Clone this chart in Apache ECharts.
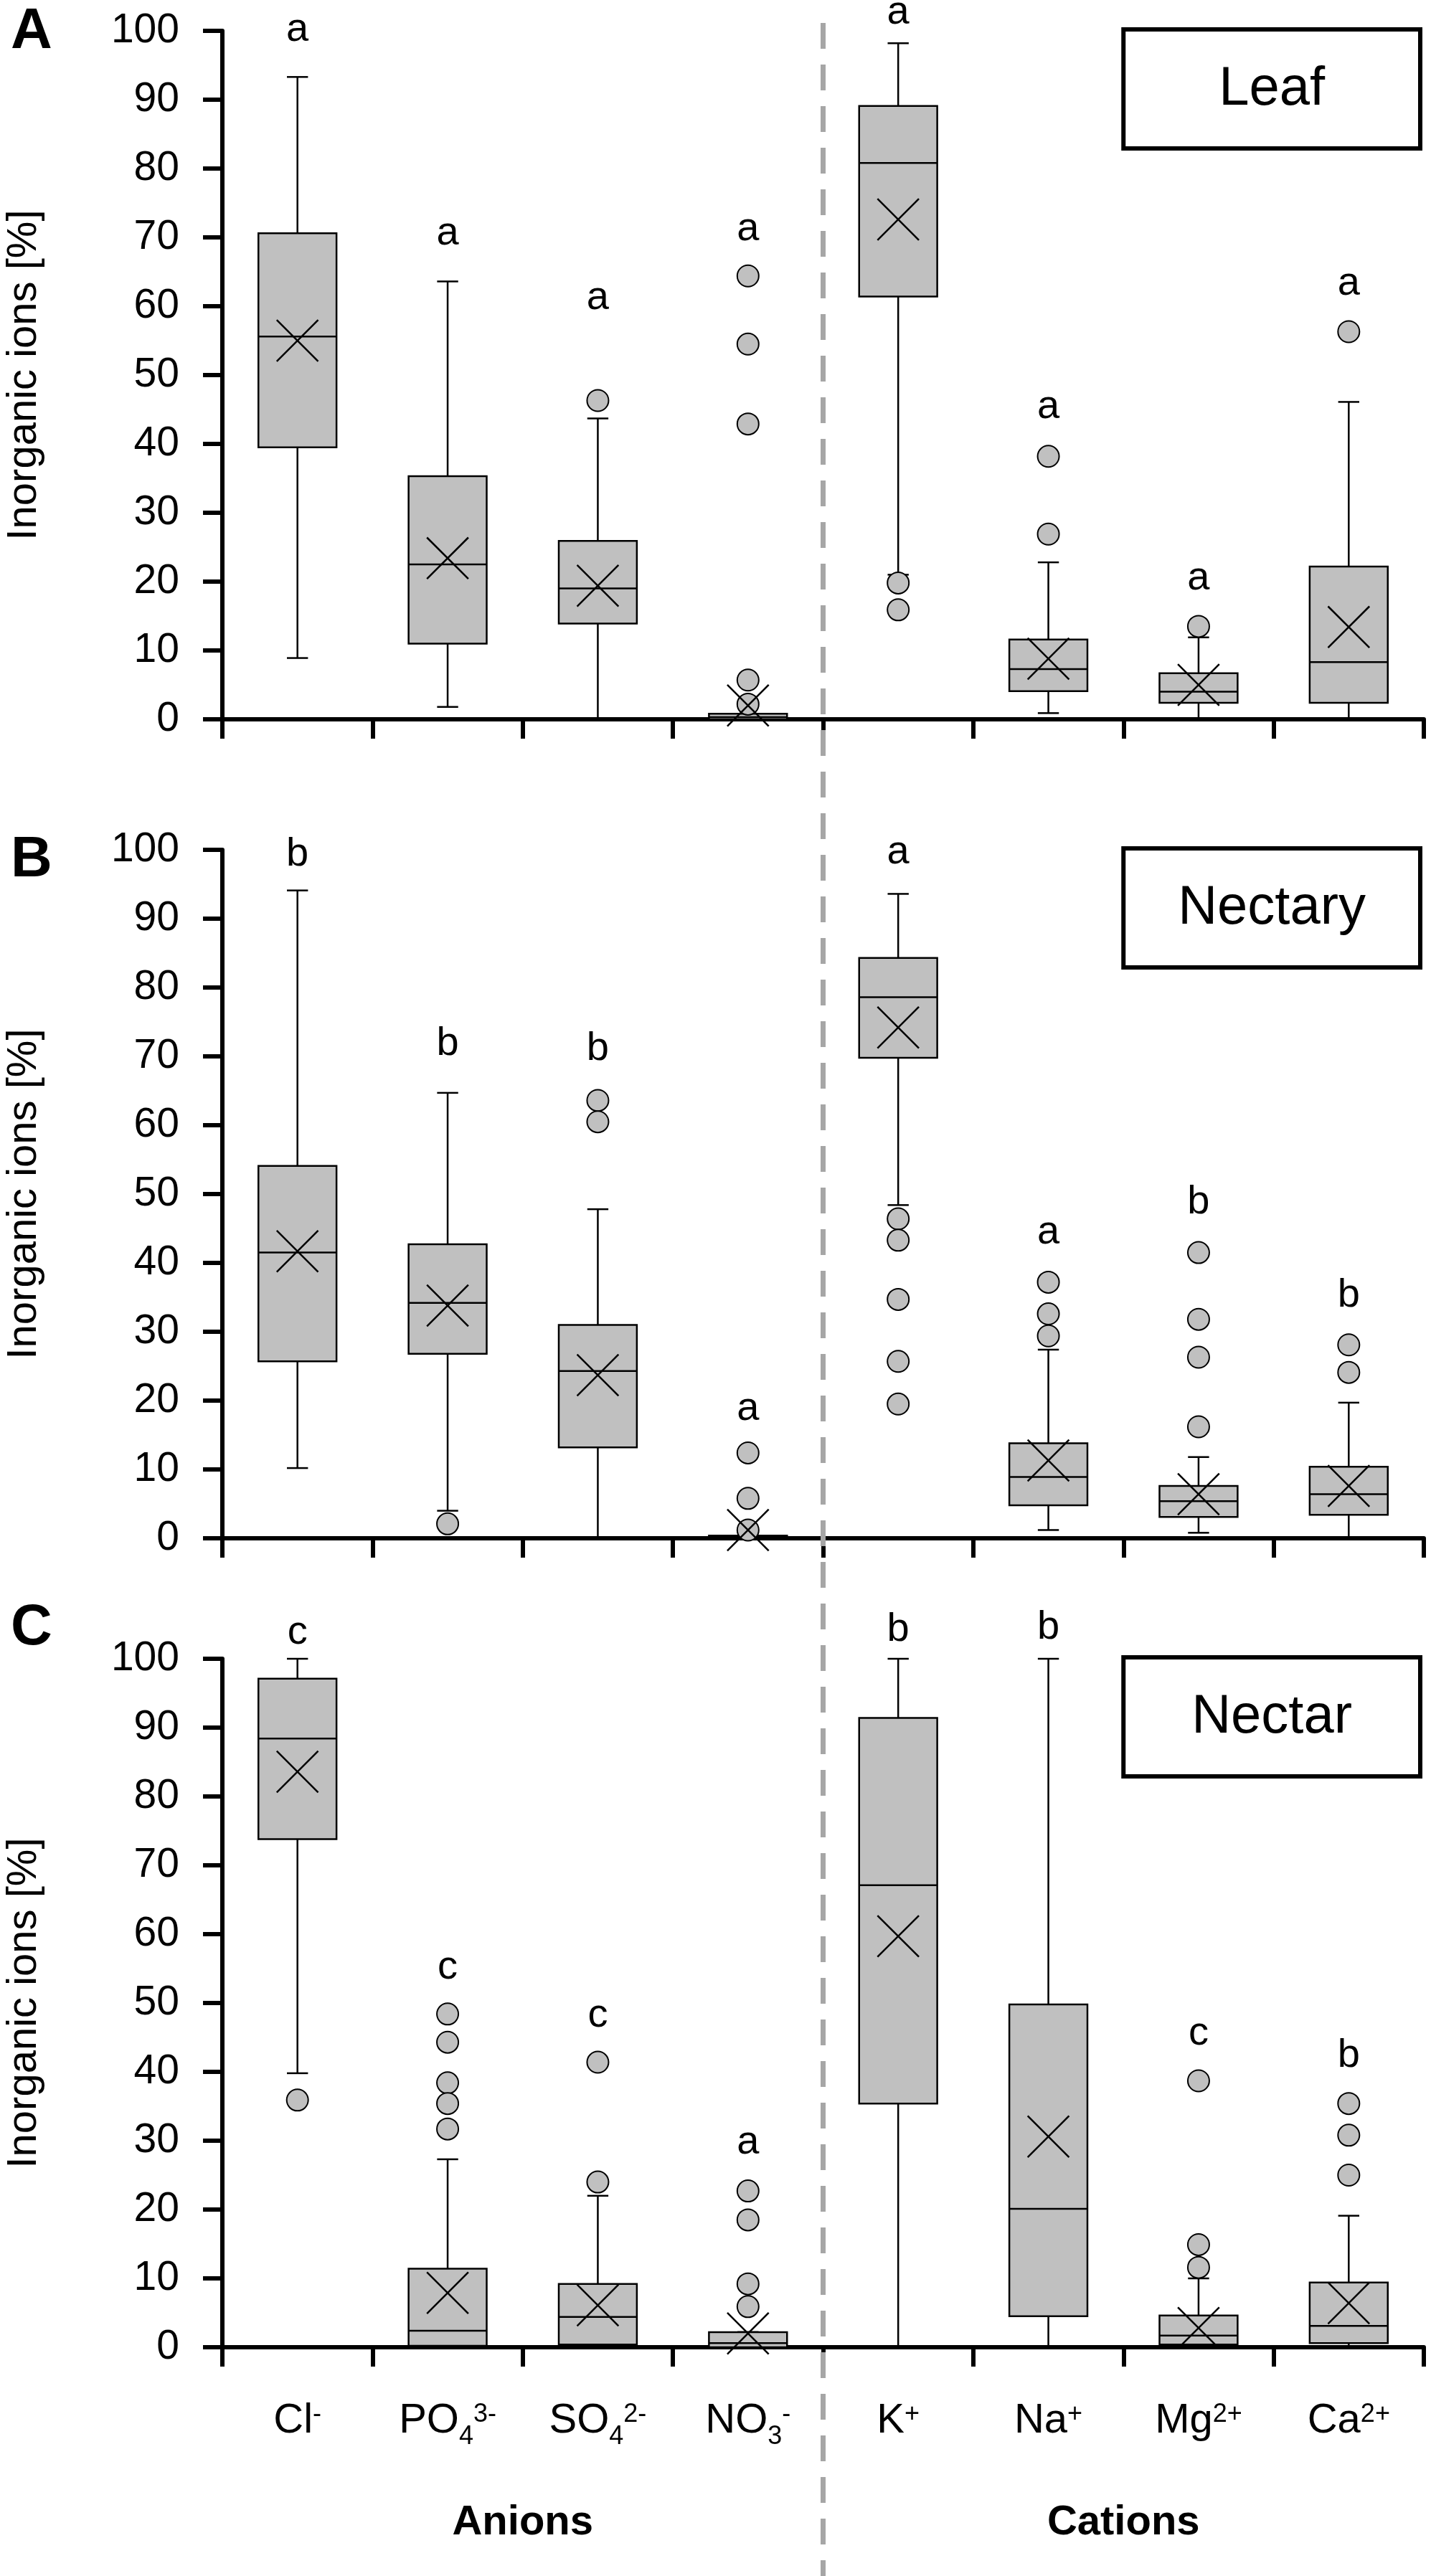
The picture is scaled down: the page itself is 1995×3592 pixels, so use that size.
<!DOCTYPE html>
<html>
<head>
<meta charset="utf-8">
<title>Inorganic ions</title>
<script src="https://cdn.jsdelivr.net/npm/echarts/dist/echarts.min.js"></script>
<style>
  html, body { margin: 0; padding: 0; background: #fff; }
  #chart { width: 1995px; height: 3592px; }
</style>
</head>
<body>
<div id="chart"></div>
<script>
// categories and tick labels
const ions = ['Cl-', 'PO4 3-', 'SO4 2-', 'NO3 -', 'K+', 'Na+', 'Mg2+', 'Ca2+'];
const ionLabels = [
  '{m|Cl}{sup|-}', '{m|PO}{sub|4}{sup|3-}', '{m|SO}{sub|4}{sup|2-}', '{m|NO}{sub|3}{sup|-}',
  '{m|K}{sup|+}', '{m|Na}{sup|+}', '{m|Mg}{sup|2+}', '{m|Ca}{sup|2+}'
];
const groups = ['Anions', 'Cations'];
const panelNames = ['Leaf', 'Nectary', 'Nectar'];
const panelTags = ['A', 'B', 'C'];

// box stats per ion: [low whisker, Q1, median, Q3, high whisker]
const leafStats = [
  [8.9, 39.5, 55.6, 70.6, 93.3],
  [1.8, 11.0, 22.5, 35.3, 63.6],
  [0, 13.9, 19.0, 25.9, 43.7],
  [0, 0, 0.3, 0.8, 0.8],
  [21.0, 61.4, 80.8, 89.1, 98.2],
  [0.9, 4.1, 7.3, 11.6, 22.8],
  [0, 2.4, 4.0, 6.7, 11.9],
  [0, 2.4, 8.3, 22.2, 46.1]
];
const leafMean = [55.0, 23.4, 19.4, 2.0, 72.6, 8.8, 5.0, 13.4];
const leafOutliers = [
  [2, 46.3], [3, 64.4], [3, 54.5], [3, 42.9], [3, 5.7], [3, 2.2],
  [4, 19.8], [4, 15.9], [5, 38.2], [5, 26.9], [6, 13.5], [7, 56.3]
];
const leafLetters = ['a', 'a', 'a', 'a', 'a', 'a', 'a', 'a'];
const leafLetterAt = [100.2, 70.6, 61.2, 71.2, 102.6, 45.4, 20.5, 63.3];

const nectaryStats = [
  [10.2, 25.7, 41.5, 54.1, 94.1],
  [4.0, 26.8, 34.2, 42.7, 64.7],
  [0, 13.2, 24.3, 31.0, 47.8],
  [0, 0, 0.2, 0.4, 0.4],
  [48.4, 69.8, 78.6, 84.3, 93.6],
  [1.2, 4.8, 8.9, 13.8, 27.4],
  [0.8, 3.1, 5.4, 7.6, 11.8],
  [0, 3.4, 6.4, 10.4, 19.7]
];
const nectaryMean = [41.7, 33.8, 23.7, 1.2, 74.2, 11.3, 6.4, 7.6];
const nectaryOutliers = [
  [1, 2.1], [2, 63.6], [2, 60.5], [3, 12.4], [3, 5.8], [3, 1.2],
  [4, 46.4], [4, 43.3], [4, 34.7], [4, 25.7], [4, 19.5],
  [5, 37.2], [5, 32.6], [5, 29.4],
  [6, 41.5], [6, 31.8], [6, 26.3], [6, 16.2],
  [7, 28.1], [7, 24.1]
];
const nectaryLetters = ['b', 'b', 'b', 'a', 'a', 'a', 'b', 'b'];
const nectaryLetterAt = [99.3, 71.8, 71.1, 18.8, 99.6, 44.4, 48.8, 35.3];

const nectarStats = [
  [39.8, 73.8, 88.4, 97.1, 100],
  [0, 0.2, 2.4, 11.4, 27.3],
  [0, 0.4, 4.4, 9.2, 22.0],
  [0, 0, 0.6, 2.2, 2.2],
  [0, 35.4, 67.1, 91.4, 100],
  [0, 4.5, 20.1, 49.8, 100],
  [0, 0.4, 1.7, 4.6, 10.0],
  [0, 0.6, 3.1, 9.4, 19.1]
];
const nectarMean = [83.6, 7.9, 6.1, 2.0, 59.7, 30.6, 2.8, 6.4];
const nectarOutliers = [
  [0, 35.9], [1, 48.4], [1, 44.3], [1, 38.4], [1, 35.4], [1, 31.7],
  [2, 41.4], [2, 24.0], [3, 22.7], [3, 18.5], [3, 9.2], [3, 5.9],
  [6, 38.7], [6, 14.9], [6, 11.6], [7, 35.4], [7, 30.8], [7, 25.0]
];
const nectarLetters = ['c', 'c', 'c', 'a', 'b', 'b', 'c', 'b'];
const nectarLetterAt = [103.8, 55.1, 48.2, 29.7, 104.2, 104.5, 45.6, 42.3];

const FONT = 'Liberation Sans, Arial, Helvetica, sans-serif';
const GRAY = '#c0c0c0';
const gridLeft = 310, gridRight = 10, plotH = 960;
const gridTops = [43, 1185, 2313];
const tagY = [45, 1200, 2271];

const panels = [
  { stats: leafStats, mean: leafMean, out: leafOutliers, letters: leafLetters, at: leafLetterAt },
  { stats: nectaryStats, mean: nectaryMean, out: nectaryOutliers, letters: nectaryLetters, at: nectaryLetterAt },
  { stats: nectarStats, mean: nectarMean, out: nectarOutliers, letters: nectarLetters, at: nectarLetterAt }
];

function ln(x1, y1, x2, y2, w) {
  return { type: 'line', shape: { x1, y1, x2, y2 }, style: { stroke: '#000', lineWidth: w || 2.5 } };
}

function renderBox(params, api) {
  const i = api.value(0);
  const lo = api.coord([i, api.value(1)]);
  const q1 = api.coord([i, api.value(2)]);
  const md = api.coord([i, api.value(3)]);
  const q3 = api.coord([i, api.value(4)]);
  const hi = api.coord([i, api.value(5)]);
  const cx = lo[0];
  const bw = api.size([1, 0])[0] * 0.52;
  const cap = bw * 0.27;
  return {
    type: 'group',
    children: [
      ln(cx, lo[1], cx, q1[1]),
      ln(cx, q3[1], cx, hi[1]),
      ln(cx - cap / 2, lo[1], cx + cap / 2, lo[1]),
      ln(cx - cap / 2, hi[1], cx + cap / 2, hi[1]),
      { type: 'rect', shape: { x: cx - bw / 2, y: q3[1], width: bw, height: q1[1] - q3[1] },
        style: { fill: GRAY, stroke: '#000', lineWidth: 2.5 } },
      ln(cx - bw / 2, md[1], cx + bw / 2, md[1])
    ]
  };
}

function renderMean(params, api) {
  const p = api.coord([api.value(0), api.value(1)]);
  const h = api.size([1, 0])[0] * 0.52 * 0.265;
  return {
    type: 'group',
    children: [
      ln(p[0] - h, p[1] - h, p[0] + h, p[1] + h),
      ln(p[0] - h, p[1] + h, p[0] + h, p[1] - h)
    ]
  };
}

function makeLetterRender(letters) {
  return function (params, api) {
    const p = api.coord([api.value(0), api.value(1)]);
    return {
      type: 'text', x: p[0], y: p[1],
      style: { text: letters[params.dataIndex], fontSize: 56, fontFamily: FONT, fill: '#000',
               align: 'center', verticalAlign: 'middle' }
    };
  };
}

// the grey dashed line between anions and cations, from top panel down to page bottom
function renderDivider(params, api) {
  const x = (api.coord([3, 0])[0] + api.coord([4, 0])[0]) / 2;
  const yTop = api.coord([0, 100])[1] - 11;
  return {
    type: 'line', shape: { x1: x, y1: yTop, x2: x, y2: api.getHeight() },
    style: { stroke: '#a6a6a6', lineWidth: 7, lineDash: [36, 22] }
  };
}

const grids = [], xAxes = [], yAxes = [], series = [], graphics = [];

panels.forEach((pd, p) => {
  grids.push({ left: gridLeft, right: gridRight, top: gridTops[p], height: plotH, outerBoundsMode: 'none' });
  xAxes.push({
    type: 'category', gridIndex: p, data: ions, boundaryGap: true,
    axisLine: { show: true, lineStyle: { color: '#000', width: 6 } },
    axisTick: { show: true, interval: 0, length: 27, lineStyle: { color: '#000', width: 6 } },
    axisLabel: p < 2 ? { show: false } : {
      show: true, interval: 0, margin: 63, color: '#000',
      formatter: (v, i) => ionLabels[i],
      rich: {
        m: { fontSize: 58, lineHeight: 80, fontFamily: FONT, color: '#000' },
        sup: { fontSize: 36, lineHeight: 36, fontFamily: FONT, color: '#000', verticalAlign: 'top', padding: [13, 0, 0, 0] },
        sub: { fontSize: 36, lineHeight: 36, fontFamily: FONT, color: '#000', verticalAlign: 'bottom', padding: [0, 0, 0, 0] }
      }
    },
    splitLine: { show: false }
  });
  yAxes.push({
    type: 'value', gridIndex: p, min: 0, max: 100, interval: 10,
    name: 'Inorganic ions [%]', nameLocation: 'middle', nameGap: 247,
    nameTextStyle: { fontSize: 58, fontFamily: FONT, color: '#000' },
    axisLine: { show: true, lineStyle: { color: '#000', width: 6 } },
    axisTick: { show: true, length: 27, lineStyle: { color: '#000', width: 6 } },
    axisLabel: { fontSize: 57, fontFamily: FONT, color: '#000', margin: 60 },
    splitLine: { show: false }
  });

  series.push({
    type: 'custom', xAxisIndex: p, yAxisIndex: p, z: 2, clip: false, silent: true,
    renderItem: renderBox,
    data: pd.stats.map((s, i) => [i].concat(s))
  });
  series.push({
    type: 'scatter', xAxisIndex: p, yAxisIndex: p, z: 3, silent: true,
    symbol: 'circle', symbolSize: 30,
    itemStyle: { color: GRAY, borderColor: '#000', borderWidth: 2, opacity: 1 },
    data: pd.out
  });
  series.push({
    type: 'custom', xAxisIndex: p, yAxisIndex: p, z: 4, clip: false, silent: true,
    renderItem: renderMean,
    data: pd.mean.map((m, i) => [i, m])
  });
  series.push({
    type: 'custom', xAxisIndex: p, yAxisIndex: p, z: 4, clip: false, silent: true,
    renderItem: makeLetterRender(pd.letters),
    data: pd.at.map((v, i) => [i, v])
  });

  // panel name box in the upper right and the panel tag at the upper left
  const catW = (1995 - gridLeft - gridRight) / 8;
  const bx = gridLeft + 6 * catW;
  const by = gridTops[p] - 2;
  graphics.push({
    type: 'rect', shape: { x: bx, y: by, width: 1985 - bx - 5, height: 166 },
    style: { fill: '#fff', stroke: '#000', lineWidth: 6 }, z: 10
  });
  graphics.push({
    type: 'text', x: bx + (1985 - bx - 5) / 2, y: by + 84, z: 11,
    style: { text: panelNames[p], fontSize: 76, fontFamily: FONT, fill: '#000',
             align: 'center', verticalAlign: 'middle', textAlign: 'center', textVerticalAlign: 'middle' }
  });
  graphics.push({
    type: 'text', x: 15, y: tagY[p], z: 11,
    style: { text: panelTags[p], fontSize: 80, fontWeight: 'bold', fontFamily: FONT, fill: '#000',
             align: 'left', verticalAlign: 'middle', textAlign: 'left', textVerticalAlign: 'middle' }
  });
});

// group axis (Anions / Cations) under the bottom panel
xAxes.push({
  type: 'category', gridIndex: 2, data: groups, position: 'bottom',
  axisLine: { show: false }, axisTick: { show: false }, splitLine: { show: false },
  axisLabel: { interval: 0, margin: 210, fontSize: 58, lineHeight: 70, fontWeight: 'bold', fontFamily: FONT, color: '#000' }
});

series.push({
  type: 'custom', xAxisIndex: 0, yAxisIndex: 0, z: 20, clip: false, silent: true,
  renderItem: renderDivider,
  data: [[0, 0]]
});

const chart = echarts.init(document.getElementById('chart'), null, { renderer: 'canvas' });
chart.setOption({
  animation: false,
  backgroundColor: '#fff',
  grid: grids,
  xAxis: xAxes,
  yAxis: yAxes,
  series: series,
  graphic: graphics
});
</script>
</body>
</html>
